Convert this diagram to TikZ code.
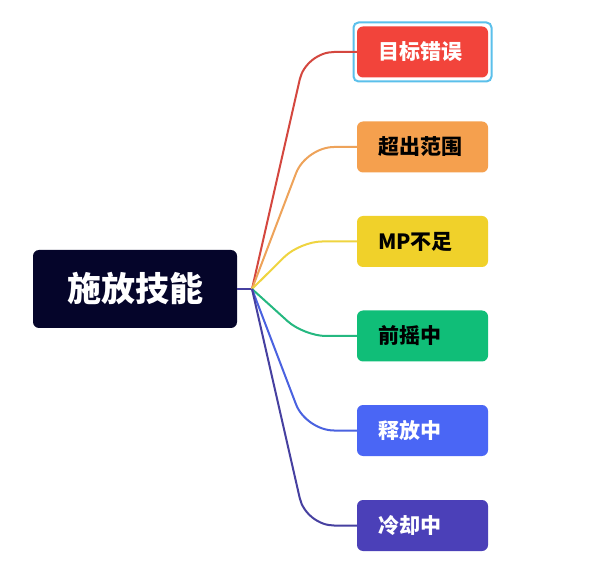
\documentclass[tikz,border=0pt]{standalone}
\usepackage{fontspec}
\newfontfamily\cjk{Noto Sans CJK SC}
\definecolor{rootbg}{HTML}{05052A}
\definecolor{cred}{HTML}{F2443B}
\definecolor{cora}{HTML}{F5A04E}
\definecolor{cyel}{HTML}{F0D12A}
\definecolor{cgre}{HTML}{10BE78}
\definecolor{cblu}{HTML}{4A66F5}
\definecolor{cpur}{HTML}{4B40B8}
\definecolor{lred}{HTML}{D4473F}
\definecolor{lora}{HTML}{EEA35A}
\definecolor{lyel}{HTML}{EFD440}
\definecolor{lgre}{HTML}{25B880}
\definecolor{lblu}{HTML}{4A62E0}
\definecolor{lpur}{HTML}{4640A0}
\definecolor{selc}{HTML}{5BC0EB}
\begin{document}
\begin{tikzpicture}[x=1pt,y=-1pt,
  rootbox/.style={fill=rootbg, rounded corners=6pt, minimum width=204pt, minimum height=78pt, inner sep=0pt, text=white, font=\cjk\bfseries\fontsize{34}{38}\selectfont},
  kidbox/.style={rounded corners=6pt, minimum width=131pt, minimum height=51pt, inner sep=0pt},
  kidtext/.style={anchor=west, inner sep=0pt, font=\cjk\bfseries\fontsize{21}{25}\selectfont},
  conn/.style={line width=2pt, rounded corners=28pt},
]
\useasboundingbox (0,0) rectangle (592,585);
\fill[white] (0,0) rectangle (592,585);

\node[rootbox] (root) at (135,289) {施放技能};
\coordinate (b) at (252,289);

\node[kidbox, fill=cred] (k1) at (422.5,52) {};
\node[kidbox, fill=cora] (k2) at (422.5,147) {};
\node[kidbox, fill=cyel] (k3) at (422.5,241.5) {};
\node[kidbox, fill=cgre] (k4) at (422.5,336) {};
\node[kidbox, fill=cblu] (k5) at (422.5,430.5) {};
\node[kidbox, fill=cpur] (k6) at (422.5,525.5) {};

\draw[selc, line width=2pt, rounded corners=5pt] (353.5,22.5) rectangle (491.5,81.5);

\node[kidtext, text=white] (t1) at ([xshift=21pt]k1.west) {目标错误};
\node[kidtext, text=black] (t2) at ([xshift=21pt]k2.west) {超出范围};
\node[kidtext, text=black] (t3) at ([xshift=21pt]k3.west) {MP不足};
\node[kidtext, text=black] (t4) at ([xshift=21pt]k4.west) {前摇中};
\node[kidtext, text=white] (t5) at ([xshift=21pt]k5.west) {释放中};
\node[kidtext, text=white] (t6) at ([xshift=21pt]k6.west) {冷却中};

\draw[lpur, line width=2pt] (root.east) -- (b);
\draw[conn, lred] (b) -- (306,52) -- (k1.west);
\draw[conn, lora] (b) -- (306,147) -- (k2.west);
\draw[conn, lyel, rounded corners=22pt] (b) -- (300,241.5) -- (k3.west);
\draw[conn, lgre, rounded corners=22pt] (b) -- (304,336) -- (k4.west);
\draw[conn, lblu] (b) -- (306,430.5) -- (k5.west);
\draw[conn, lpur] (b) -- (306,525.5) -- (k6.west);
\end{tikzpicture}
\end{document}
